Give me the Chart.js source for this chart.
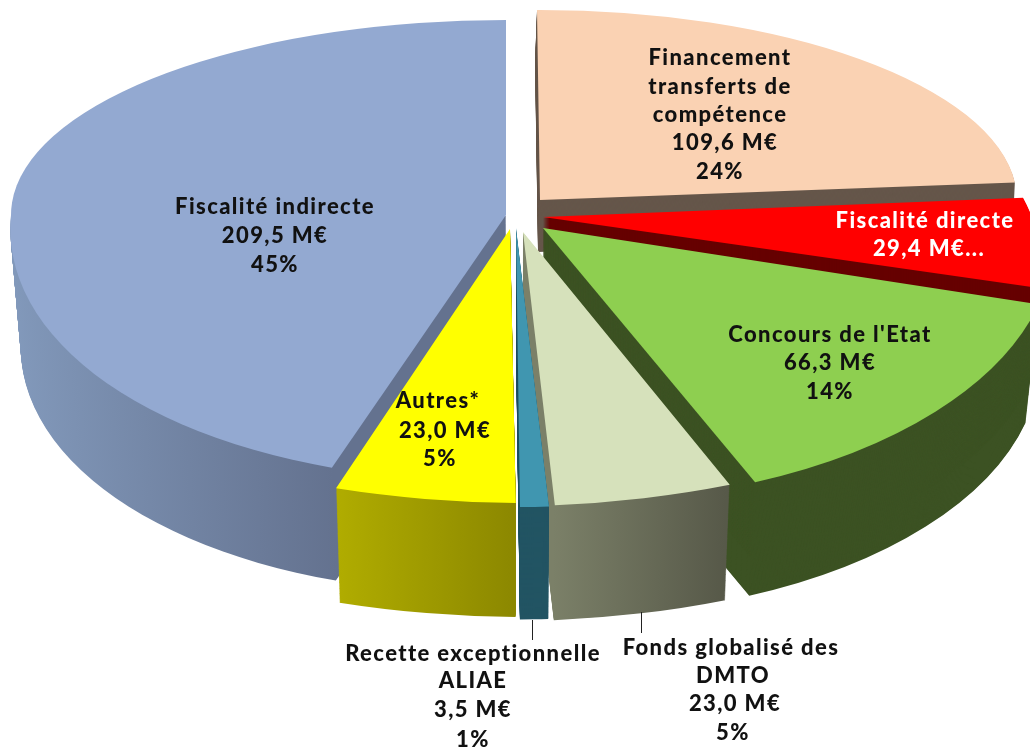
<!DOCTYPE html>
<html><head><meta charset="utf-8">
<script src="https://cdn.jsdelivr.net/npm/chart.js@4"></script>
<style>html,body{margin:0;padding:0;background:#fff;overflow:hidden}canvas{display:block;filter:blur(0.45px)}</style>
</head><body><canvas id="c" width="1030" height="749"></canvas>
<script>
const categories = ['Financement transferts de compétence','Fiscalité directe','Concours de l\'Etat','Fonds globalisé des DMTO','Recette exceptionnelle ALIAE','Autres*','Fiscalité indirecte'];
const valuesM = [109.6,29.4,66.3,23.0,3.5,23.0,209.5];
const percents = ['24%','','14%','5%','1%','5%','45%'];
const valueTexts = ['109,6 M€','29,4 M€...','66,3 M€','23,0 M€','3,5 M€','23,0 M€','209,5 M€'];
const topColors = ['#fad2b3','#ff0000','#8ecf50','#d6e1bb','#4096b0','#ffff00','#93a9d1'];

// projection of each slice (a,b,c,d: ellipse axes/shear; ex,ey: apex; wall: dx,dy,scale)
const looks = [
 {ex:540,ey:200,m:[{a:477,b:3,c:190,d:-1}],wall:{dx:-2,dy:52,s:1},col:['#65564a']},
 {ex:543,ey:217,m:[{a:489,b:81,c:228,d:0.6}],wall:{dx:0,dy:30,s:1},col:['#660000']},
 {ex:543,ey:228,m:[{a:510,b:33,c:275,d:-8}],wall:{dx:-0.6,dy:120,s:0.975},col:['#3c5223']},
 {ex:523,ey:232,m:[{a:577,b:1.8,c:274,d:-9.5}],wall:{dx:-0.4,dy:120.5,s:0.98},col:['#7b8068','#575949'],grad:[0.05,0.35]},
 {ex:516,ey:228,m:[{a:612,b:1.1,c:279,d:0}],wall:{dx:0,dy:118,s:0.98},col:['#225463']},
 {ex:510,ey:229,m:[{a:586,b:3,c:274,d:6.2}],wall:{dx:0,dy:119.5,s:0.98},col:['#b0ac00','#8c8800'],grad:[-0.3,0]},
 {ex:506,ey:215,m:[{a:495,b:0,c:195,d:0,side:'up',noWall:true},{a:495,b:-26,c:265,d:0,side:'down'}],wall:{dx:0.5,dy:118,s:0.98},col:['#8299bb','#64728f'],grad:[-1,-0.3]}
];
const drawOrder = [0,1,2,6,3,4,5];

const labelFont = '900 22px Lato';
const labelSpacing = '1.4px';
const labelBlocks = [
 {i:0,color:'#111',lines:[['Financement',720,58],['transferts de',720,87],['compétence',720,115],[valueTexts[0],725,143],[percents[0],720,172]]},
 {i:1,color:'#fff',lines:[['Fiscalité directe',925,221],[valueTexts[1],929,249]]},
 {i:2,color:'#111',lines:[['Concours de l\'Etat',830,335],[valueTexts[2],830,363],[percents[2],830,392]]},
 {i:3,color:'#111',lines:[['Fonds globalisé des',731,648],['DMTO',733,676],[valueTexts[3],735,704],[percents[3],733,733]]},
 {i:4,color:'#111',lines:[['Recette exceptionnelle',473,654],['ALIAE',473,681],[valueTexts[4],473,710],[percents[4],473,740]]},
 {i:5,color:'#111',lines:[['Autres*',438,401],[valueTexts[5],445,431],[percents[5],440,459]]},
 {i:6,color:'#111',lines:[['Fiscalité indirecte',275,207],[valueTexts[6],275,236],[percents[6],275,265]]}
];
const leaders = [[532,620,640],[641,612,633]];

function plainOpts(fill){
  return {backgroundColor:fill,borderColor:fill,borderWidth:0,borderAlign:'center',borderRadius:0,offset:0,spacing:0,circular:true,borderJoinStyle:'round'};
}
function drawSlice(ctx,arc,look,t,fill){
  const R=arc.outerRadius, saved=arc.options;
  arc.options=plainOpts(fill);
  const w=look.wall, s=1+(w.s-1)*t;
  look.m.forEach(m=>{
    if(t>0 && m.noWall) return;
    ctx.save();
    ctx.translate(look.ex+w.dx*t,look.ey+w.dy*t);
    ctx.transform(m.a*s/R,m.d*s/R,m.b*s/R,m.c*s/R,0,0);
    if(m.side){
      ctx.beginPath();
      if(m.side==='up') ctx.rect(-R-5,-R-5,2*R+10,R+6);
      else ctx.rect(-R-5,0,2*R+10,R+5);
      ctx.clip();
    }
    ctx.translate(-arc.x,-arc.y);
    arc.draw(ctx);
    ctx.restore();
  });
  arc.options=saved;
}
function wallFill(ctx,arc,look){
  if(look.col.length===1) return look.col[0];
  const R=arc.outerRadius,g=ctx.createLinearGradient(arc.x+look.grad[0]*R,0,arc.x+look.grad[1]*R,0);
  g.addColorStop(0,look.col[0]);g.addColorStop(1,look.col[1]);
  return g;
}
const pie3d = {
  id:'pie3d',
  beforeDatasetsDraw(chart){
    const ctx=chart.ctx, arcs=chart.getDatasetMeta(0).data;
    drawOrder.forEach(i=>{
      const look=looks[i], arc=arcs[i];
      const steps=Math.ceil(look.wall.dy), fill=wallFill(ctx,arc,look);
      for(let k=steps;k>=1;k--) drawSlice(ctx,arc,look,k/steps,fill);
      drawSlice(ctx,arc,look,0,topColors[i]);
    });
    return false;
  },
  afterDraw(chart){
    const ctx=chart.ctx;
    ctx.save();
    ctx.strokeStyle='#222';ctx.lineWidth=1;
    leaders.forEach(l=>{ctx.beginPath();ctx.moveTo(l[0]+0.5,l[1]);ctx.lineTo(l[0]+0.5,l[2]);ctx.stroke();});
    ctx.font=labelFont;ctx.letterSpacing=labelSpacing;ctx.textAlign='center';ctx.textBaseline='middle';
    labelBlocks.forEach(b=>{
      ctx.fillStyle=b.color;
      b.lines.forEach(l=>ctx.fillText(l[0],l[1],l[2]));
    });
    ctx.restore();
  }
};
new Chart(document.getElementById('c'),{
  type:'pie',
  data:{labels:categories,datasets:[{data:valuesM,backgroundColor:topColors,borderWidth:0}]},
  options:{responsive:false,animation:false,layout:{padding:0},
    plugins:{legend:{display:false},tooltip:{enabled:false}}},
  plugins:[pie3d]
});
</script></body></html>
